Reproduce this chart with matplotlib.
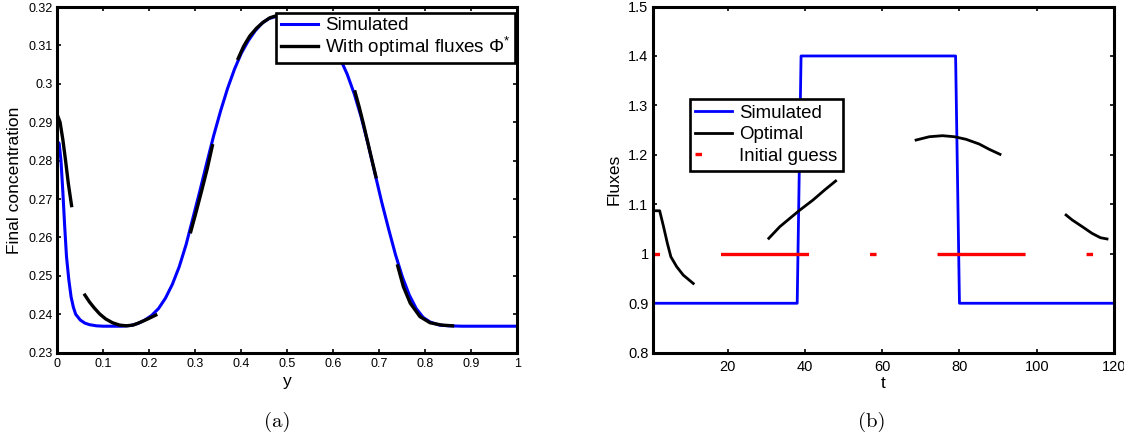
import matplotlib
matplotlib.use("Agg")
import matplotlib.pyplot as plt

plt.rcParams['font.family'] = ['Liberation Sans', 'DejaVu Sans']
plt.rcParams['mathtext.fontset'] = 'custom'
plt.rcParams['mathtext.rm'] = 'Liberation Sans'
plt.rcParams['mathtext.it'] = 'Liberation Sans:italic'
plt.rcParams['lines.scale_dashes'] = False

# ---------------- (a) data ----------------
y_sim = [0.000, 0.004, 0.008, 0.012, 0.016, 0.020, 0.025, 0.030, 0.035, 0.040,
         0.050, 0.060, 0.070, 0.085, 0.100, 0.120, 0.140, 0.160, 0.175, 0.190,
         0.205, 0.220, 0.235, 0.250, 0.265, 0.280, 0.295, 0.310, 0.325, 0.340,
         0.355, 0.370, 0.385, 0.400, 0.415, 0.430, 0.445, 0.460, 0.480, 0.500,
         0.520, 0.540, 0.560, 0.580, 0.600, 0.615, 0.630, 0.645, 0.660, 0.675,
         0.690, 0.705, 0.720, 0.735, 0.750, 0.765, 0.780, 0.795, 0.810, 0.830,
         0.850, 0.880, 1.000]
c_sim = [0.2850, 0.2845, 0.2800, 0.2720, 0.2630, 0.2550, 0.2490, 0.2445, 0.2418, 0.2400,
         0.2385, 0.2377, 0.2373, 0.2370, 0.2369, 0.2369, 0.2369, 0.2371, 0.2376, 0.2385,
         0.2397, 0.2415, 0.2442, 0.2478, 0.2524, 0.2582, 0.2652, 0.2722, 0.2795, 0.2866,
         0.2930, 0.2988, 0.3038, 0.3080, 0.3112, 0.3138, 0.3158, 0.3170, 0.3177, 0.3179,
         0.3177, 0.3170, 0.3155, 0.3130, 0.3097, 0.3065, 0.3025, 0.2975, 0.2915, 0.2845,
         0.2768, 0.2692, 0.2622, 0.2555, 0.2497, 0.2450, 0.2415, 0.2392, 0.2380, 0.2372,
         0.2370, 0.2369, 0.2369]

opt_segments_a = [
    ([0.002, 0.006, 0.012, 0.018, 0.024, 0.031],
     [0.2913, 0.2900, 0.2855, 0.2800, 0.2740, 0.2683]),
    ([0.060, 0.070, 0.080, 0.092, 0.105, 0.120, 0.135, 0.150, 0.165, 0.180, 0.195, 0.214],
     [0.2450, 0.2432, 0.2417, 0.2401, 0.2388, 0.2378, 0.2372, 0.2370, 0.2372, 0.2379, 0.2387, 0.2398]),
    ([0.290, 0.302, 0.314, 0.326, 0.337],
     [0.2615, 0.2668, 0.2723, 0.2780, 0.2839]),
    ([0.393, 0.405, 0.418, 0.433, 0.448, 0.462, 0.475],
     [0.3066, 0.3098, 0.3124, 0.3145, 0.3161, 0.3172, 0.3177]),
    ([0.647, 0.656, 0.665, 0.6795, 0.6925],
     [0.2979, 0.2940, 0.2897, 0.2823, 0.2758]),
    ([0.7397, 0.752, 0.767, 0.788, 0.810, 0.835, 0.859],
     [0.2526, 0.2472, 0.2429, 0.2394, 0.2378, 0.2372, 0.2370]),
]

a_xticks = [0, 0.1, 0.2, 0.3, 0.4, 0.5, 0.6, 0.7, 0.8, 0.9, 1]
a_xlabels = ['0', '0.1', '0.2', '0.3', '0.4', '0.5', '0.6', '0.7', '0.8', '0.9', '1']
a_yticks = [0.23, 0.24, 0.25, 0.26, 0.27, 0.28, 0.29, 0.30, 0.31, 0.32]
a_ylabels = ['0.23', '0.24', '0.25', '0.26', '0.27', '0.28', '0.29', '0.3', '0.31', '0.32']

# ---------------- (b) data ----------------
t_sim = [0, 38, 39, 79, 80, 120]
f_sim = [0.9, 0.9, 1.4, 1.4, 0.9, 0.9]

opt_segments_b = [
    ([0.6, 2.4, 3.4, 4.4, 5.3, 6.8, 8.5, 11.1],
     [1.087, 1.087, 1.055, 1.021, 0.994, 0.974, 0.957, 0.940]),
    ([30.65, 33.5, 36.1, 38.7, 42.1, 45.1, 47.95],
     [1.0313, 1.0548, 1.0717, 1.0885, 1.1088, 1.1290, 1.1472]),
    ([68.77, 72.2, 75.6, 78.7, 81.7, 85.1, 87.7, 90.5],
     [1.2300, 1.2367, 1.2388, 1.2367, 1.2315, 1.2220, 1.2113, 1.2011]),
    ([107.6, 109.2, 111.8, 114.3, 116.5, 118.2],
     [1.0784, 1.0683, 1.0548, 1.0414, 1.0325, 1.0300]),
]

t_guess = [0.6, 120]
f_guess = [1.0, 1.0]

b_xticks = [20, 40, 60, 80, 100, 120]
b_xlabels = ['20', '40', '60', '80', '100', '120']
b_yticks = [0.8, 0.9, 1.0, 1.1, 1.2, 1.3, 1.4, 1.5]
b_ylabels = ['0.8', '0.9', '1', '1.1', '1.2', '1.3', '1.4', '1.5']

# ---------------- figure ----------------
fig = plt.figure(figsize=(11.24, 4.34), dpi=100)
ax1 = fig.add_axes([0.05098, 0.1873, 0.4094, 0.7965])
ax2 = fig.add_axes([0.5807, 0.1873, 0.4104, 0.7977])


def style_axes(ax, tick_fs):
    for sp in ax.spines.values():
        sp.set_linewidth(2.2)
        sp.set_color('black')
    ax.tick_params(direction='in', top=True, right=True, length=3, width=1.2,
                   labelsize=tick_fs, colors='black')


# (a)
ax1.plot(y_sim, c_sim, color='#0000ff', lw=2.2, label='Simulated', zorder=2)
for i, (xs, vs) in enumerate(opt_segments_a):
    ax1.plot(xs, vs, color='black', lw=2.4, zorder=3,
             label='With optimal fluxes Φ$^{*}$' if i == 0 else None)
ax1.set_xlim(0, 1)
ax1.set_ylim(0.23, 0.32)
ax1.set_xticks(a_xticks)
ax1.set_xticklabels(a_xlabels)
ax1.set_yticks(a_yticks)
ax1.set_yticklabels(a_ylabels)
style_axes(ax1, 9)
ax1.tick_params(axis='x', pad=4)
ax1.tick_params(axis='y', pad=3)
ax1.set_xlabel('y', fontsize=12.5, labelpad=3)
ax1.set_ylabel('Final concentration', fontsize=12.5, labelpad=5)
leg1 = ax1.legend(loc='upper right', bbox_to_anchor=(0.9946, 0.9826),
                  borderaxespad=0, fontsize=13.6, fancybox=False, framealpha=1,
                  edgecolor='black', handlelength=2.0, handletextpad=0.35,
                  borderpad=0.22, labelspacing=0.02)
leg1.get_frame().set_linewidth(1.9)

# (b)
ax2.plot(t_sim, f_sim, color='#0000ff', lw=2.0, label='Simulated', zorder=2)
for i, (xs, vs) in enumerate(opt_segments_b):
    ax2.plot(xs, vs, color='black', lw=2.0, zorder=3,
             label='Optimal' if i == 0 else None)
ax2.plot(t_guess, f_guess, color='#ff0000', lw=2.4, label='Initial guess',
         dashes=(4.7, 43.9, 63.4, 43.9), zorder=2)
ax2.set_xlim(0.6, 120)
ax2.set_ylim(0.8, 1.5)
ax2.set_xticks(b_xticks)
ax2.set_xticklabels(b_xlabels)
ax2.set_yticks(b_yticks)
ax2.set_yticklabels(b_ylabels)
style_axes(ax2, 10.5)
ax2.tick_params(axis='x', pad=5)
ax2.tick_params(axis='y', pad=3)
ax2.set_xlabel('t', fontsize=12.5, labelpad=2)
ax2.set_ylabel('Fluxes', fontsize=12.5, labelpad=5)
leg2 = ax2.legend(loc='upper left', bbox_to_anchor=(0.0798, 0.7328),
                  borderaxespad=0, fontsize=13.4, fancybox=False, framealpha=1,
                  edgecolor='black', handlelength=2.0, handletextpad=0.35,
                  borderpad=0.3, labelspacing=0.25)
leg2.get_frame().set_linewidth(1.9)

# captions
fig.text(277 / 1124, 1 - 412 / 434, '(a)', family='cmr10', fontsize=15,
         ha='center', va='top')
fig.text(872 / 1124, 1 - 412 / 434, '(b)', family='cmr10', fontsize=15,
         ha='center', va='top')

fig.savefig('out.png', dpi=100)
